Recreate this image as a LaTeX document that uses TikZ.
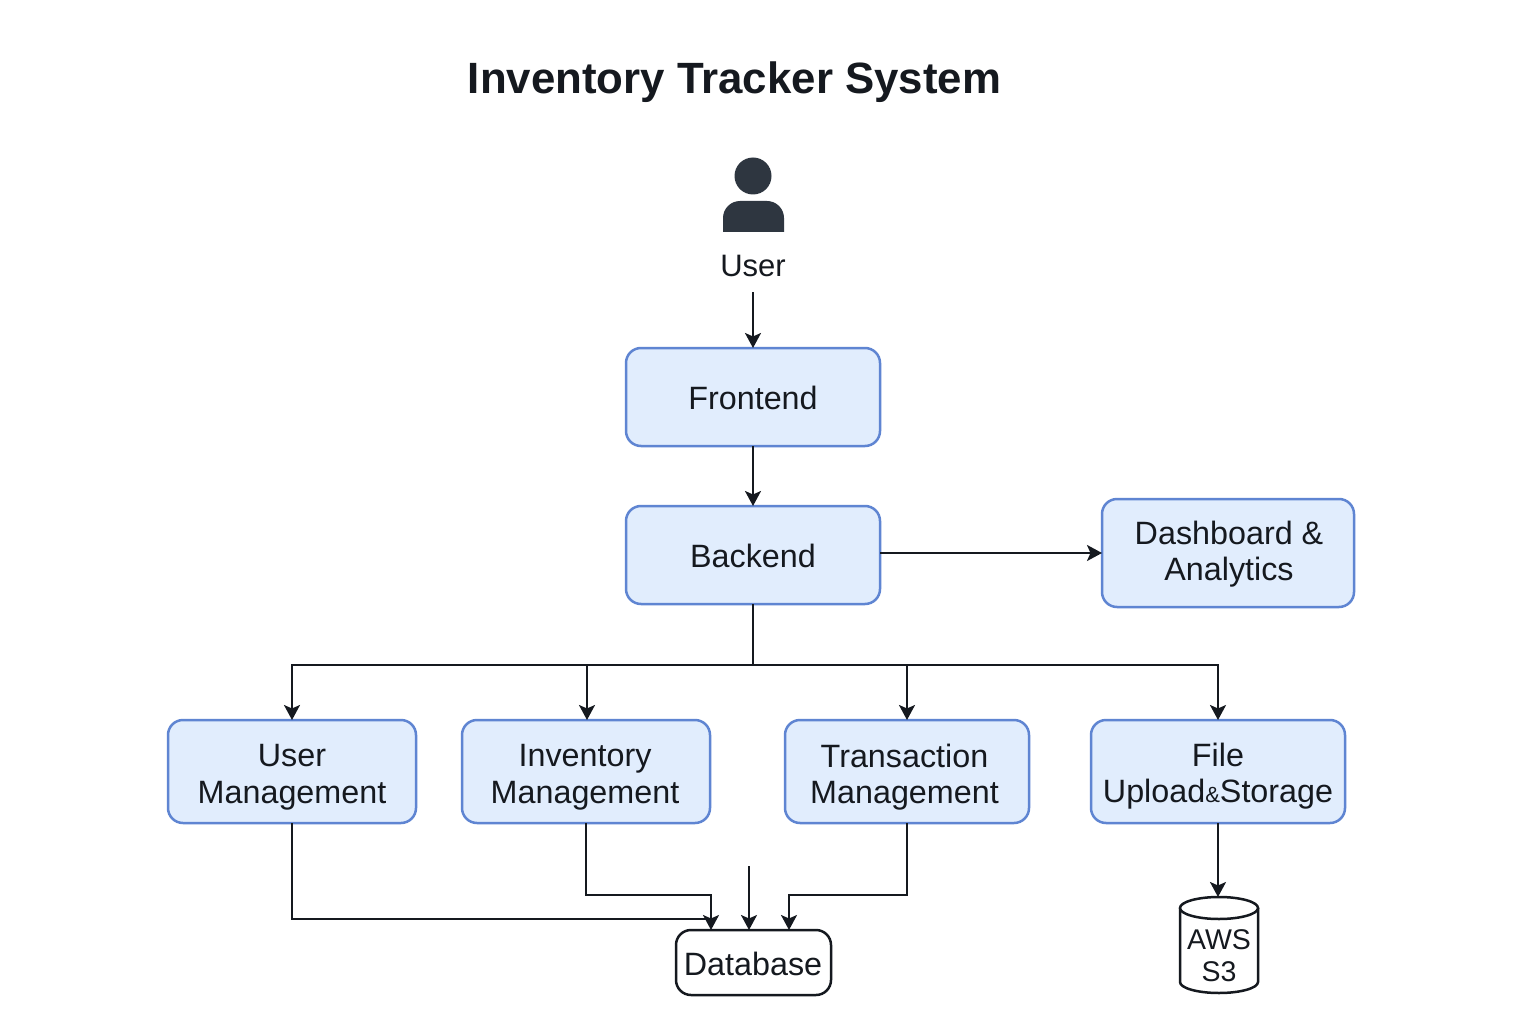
\documentclass[tikz,border=0pt]{standalone}
\usepackage{fontspec}
\setmainfont{Liberation Sans}
\usetikzlibrary{arrows.meta}
\definecolor{ink}{HTML}{15191F}
\definecolor{person}{HTML}{2E3640}
\definecolor{boxfill}{HTML}{E1EDFD}
\definecolor{boxline}{HTML}{5F85D2}
\tikzset{
  every node/.style={text=ink,font=\fontsize{32.3}{36.5}\selectfont,align=center,inner sep=0pt,outer sep=0pt},
  svcbox/.style={draw=boxline,fill=boxfill,line width=2.5pt,rounded corners=15pt,anchor=north west},
  dbbox/.style={draw=ink,fill=white,line width=2.5pt,rounded corners=15pt,anchor=north west},
  link/.style={draw=ink,line width=2.2pt,-{Stealth[length=15pt,width=16pt,inset=3.5pt]}},
  plainlink/.style={draw=ink,line width=2.2pt},
}
\begin{document}
\begin{tikzpicture}[x=1pt,y=-1pt]
\useasboundingbox (0,0) rectangle (1536,1024);
\fill[white] (0,0) rectangle (1536,1024);
\node[font=\bfseries\fontsize{43.8}{50}\selectfont] (title) at (734.5,82) {Inventory Tracker System};
% person icon
\fill[person] (753,176) circle (18.5);
\fill[person] (723,232) -- (723,218) arc[start angle=180,end angle=270,radius=17] -- (767,201) arc[start angle=270,end angle=360,radius=17] -- (784,232) -- cycle;
\node[font=\fontsize{31}{36}\selectfont] (user) at (753,266) {User};
\coordinate (userout) at (753,292);
\node[svcbox,minimum width=254pt,minimum height=98pt] (front) at (626,348) {};
\node (frontlabel) at (753,398) {Frontend};
\node[svcbox,minimum width=254pt,minimum height=98pt] (back) at (626,506) {};
\node (backlabel) at (753,556) {Backend};
\node[svcbox,minimum width=252pt,minimum height=108pt] (dash) at (1102,499) {};
\node (dashlabel) at (1229,554) {Dashboard \&\\Analytics};
\node[svcbox,minimum width=248pt,minimum height=103pt] (um) at (168,720) {};
\node (umlabel) at (292,777) {User\\Management};
\node[svcbox,minimum width=248pt,minimum height=103pt] (im) at (462,720) {};
\node (imlabel) at (585,777) {Inventory\\Management};
\node[svcbox,minimum width=244pt,minimum height=103pt] (tm) at (785,720) {};
\node (tmlabel) at (904.5,777) {Transaction\\Management};
\node[svcbox,minimum width=254pt,minimum height=103pt] (fu) at (1091,720) {};
\node (fulabel) at (1218,776) {File\\Upload{\fontsize{22}{22}\selectfont\&}Storage};
\node[dbbox,minimum width=155pt,minimum height=65pt] (db) at (676,930) {};
\node (dblabel) at (753,964) {Database};
\node[minimum width=78pt,minimum height=96pt] (s3) at (1219,945) {};
\draw[draw=ink,fill=white,line width=2.5pt] (1180,908) -- (1180,982) arc[start angle=180,end angle=0,x radius=39,y radius=11] -- (1258,908);
\draw[draw=ink,fill=white,line width=2.5pt] (1219,908) ellipse [x radius=39,y radius=11];
\node[font=\fontsize{28.5}{32}\selectfont] (s3label) at (1219,956) {AWS\\S3};
% connectors
\draw[link] (userout) -- (front.north);
\draw[link] (front.south) -- (back.north);
\draw[link] (back.east |- dash.west) -- (dash.west);
\coordinate (bus) at (753,665);
\draw[plainlink] (back.south) -- (bus);
\draw[link] (bus) -| (um.north);
\draw[link] (bus) -| (587,720);
\draw[link] (bus) -| (907,720);
\draw[link] (bus) -| (fu.north);
\draw[link] (fu.south) -- (fu.south |- s3.north);
\coordinate (dbl) at (711,930);
\coordinate (dbr) at (789,930);
\coordinate (dbm) at (749,930);
\coordinate (free) at (749,866);
\draw[plainlink] (um.south) |- (711,919);
\draw[link] (im.south) |- (711,895) -- (dbl);
\draw[link] (free) -- (dbm);
\draw[link] (907,823) |- (789,895) -- (dbr);
\end{tikzpicture}
\end{document}
